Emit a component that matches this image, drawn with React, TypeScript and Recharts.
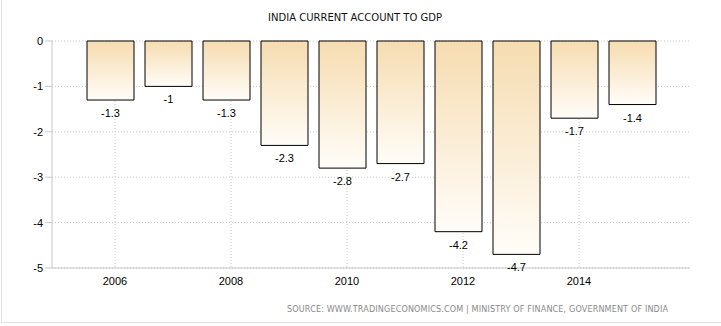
import React from 'react';
import { BarChart, Bar, XAxis, YAxis, CartesianGrid, LabelList } from 'recharts';

const years = ['2006', '2007', '2008', '2009', '2010', '2011', '2012', '2013', '2014', '2015'];
const values = [-1.3, -1, -1.3, -2.3, -2.8, -2.7, -4.2, -4.7, -1.7, -1.4];
const yTicks = [0, -1, -2, -3, -4, -5];
const title = 'INDIA CURRENT ACCOUNT TO GDP';
const source = 'SOURCE: WWW.TRADINGECONOMICS.COM | MINISTRY OF FINANCE, GOVERNMENT OF INDIA';

const data = years.map((y, i) => ({ year: y, value: values[i] }));

const FONT = '"Liberation Sans", Arial, sans-serif';
const X_PAD = 29;
const TICK_SHIFT = 5;

const XTick = (props: any) => {
  const { x, y, payload } = props;
  return (
    <text x={Number(x) + TICK_SHIFT} y={Number(y)} dy="0.71em" textAnchor="middle" fontSize={11} fontFamily={FONT} fill="#000">
      {payload.value}
    </text>
  );
};

const renderLabel = (props: any) => {
  const x = Number(props.x);
  const y = Number(props.y);
  const w = Number(props.width);
  const h = Number(props.height);
  const bottom = Math.max(y, y + h);
  return (
    <text x={x + w / 2} y={bottom + 13} textAnchor="middle" dominantBaseline="central" fontSize={11} fontFamily={FONT} fill="#000">
      {props.value}
    </text>
  );
};

const gridX = (args: any) => {
  const off = args && args.offset;
  if (!off) return [];
  const band = (Number(off.width) - 2 * X_PAD) / years.length;
  const pts: number[] = [];
  years.forEach((_, i) => {
    if (i % 2 === 0) pts.push(Number(off.left) + X_PAD + band * (i + 0.5) + TICK_SHIFT);
  });
  return pts;
};

export default function App() {
  return (
    <div style={{ position: 'absolute', left: 0, top: 0, width: 721, height: 326, background: '#fff' }}>
      <BarChart width={721} height={326} data={data} margin={{ top: 41, right: 31, left: 0, bottom: 0 }}>
        <defs>
          <linearGradient id="barGrad" x1="0" y1="0" x2="0" y2="1">
            <stop offset="0%" stopColor="#F6DCB0" />
            <stop offset="100%" stopColor="#FFFDF9" />
          </linearGradient>
        </defs>
        <CartesianGrid stroke="#c8c8c8" strokeDasharray="1 2" verticalCoordinatesGenerator={gridX} />
        <XAxis
          dataKey="year"
          height={58}
          interval={1}
          tickLine={false}
          tickSize={0}
          tickMargin={9}
          padding={{ left: X_PAD, right: X_PAD }}
          axisLine={{ stroke: '#c8c8c8' }}
          tick={<XTick />}
        />
        <YAxis
          width={52}
          domain={[-5, 0]}
          ticks={yTicks}
          interval={0}
          tickSize={7}
          tickMargin={2}
          tickLine={{ stroke: '#c8c8c8' }}
          axisLine={{ stroke: '#c8c8c8' }}
          tick={{ fontSize: 11, fontFamily: FONT, fill: '#000' }}
        />
        <Bar dataKey="value" barSize={47} fill="url(#barGrad)" stroke="#000" strokeWidth={1} isAnimationActive={false}>
          <LabelList dataKey="value" content={renderLabel} />
        </Bar>
      </BarChart>
      <svg width={721} height={326} style={{ position: 'absolute', left: 0, top: 0, pointerEvents: 'none' }}>
        <line x1={1.5} y1={0} x2={1.5} y2={323} stroke="#e2e2e2" />
        <line x1={1} y1={322.5} x2={721} y2={322.5} stroke="#e2e2e2" />
        <text x={355} y={21} textAnchor="middle" fontSize={11} fontFamily='"DejaVu Sans Condensed", "DejaVu Sans", sans-serif' fill="#111" textLength={174} lengthAdjust="spacingAndGlyphs">
          {title}
        </text>
        <text x={287} y={312} fontSize={9} fontFamily='"DejaVu Sans Condensed", "DejaVu Sans", sans-serif' fill="#8a8a8a" textLength={381} lengthAdjust="spacing">
          {source}
        </text>
      </svg>
    </div>
  );
}
